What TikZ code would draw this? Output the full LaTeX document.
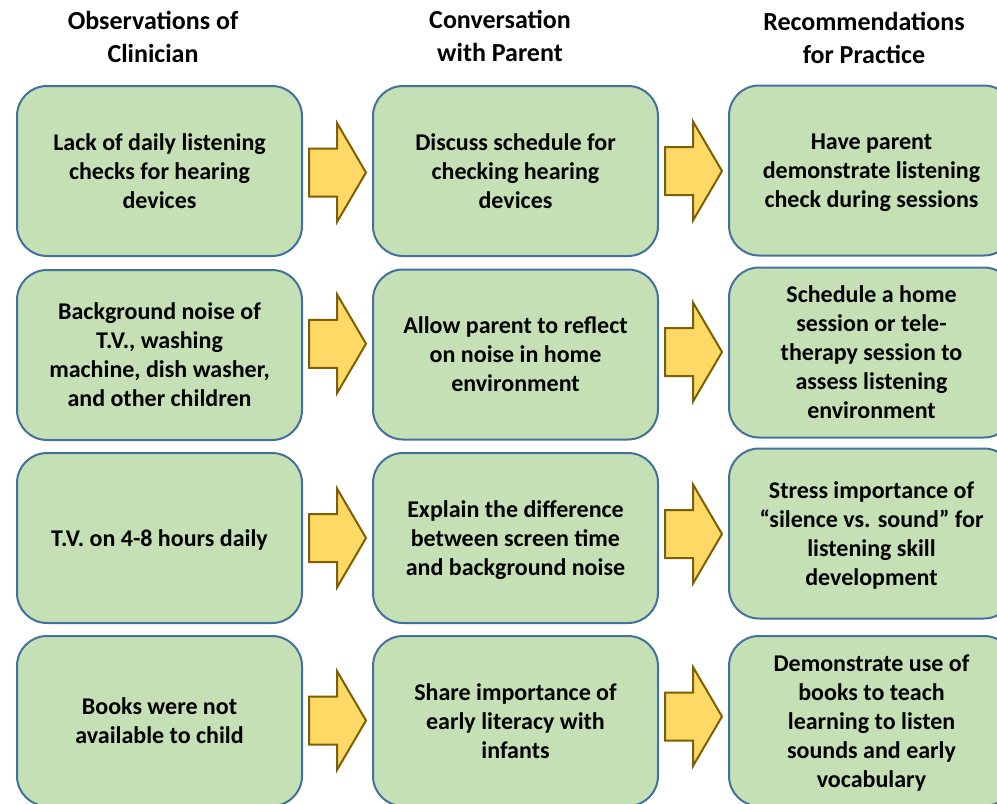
\documentclass[tikz,border=0pt]{standalone}
\usepackage{fontspec}
\setmainfont{Carlito}
\usetikzlibrary{calc}
\definecolor{boxgreen}{HTML}{C5E0B4}
\definecolor{boxblue}{HTML}{41719C}
\definecolor{arrowgold}{HTML}{FFD966}
\definecolor{arrowedge}{HTML}{7F6000}
\tikzset{
	headtext/.style={font=\fontsize{26}{33}\selectfont\bfseries, align=center},
	stepcard/.style={draw=boxblue, fill=boxgreen, line width=2pt, rounded corners=30pt, minimum width=285pt, minimum height=170pt, inner sep=0pt, text depth=0pt, align=center, font=\fontsize{24}{29}\selectfont\bfseries},
	fatarrow/.style={draw=arrowedge, fill=arrowgold, line width=2pt, line join=miter}
}
\def\blockarrow(#1)(#2)[#3]{\begin{scope}[shift={($(#1.east)!0.5!(#2.west)+(0,#3)$)}]
	\draw[fatarrow] (-28.5,-24) -- (-0.5,-24) -- (-0.5,-49.5) -- (28.5,0) -- (-0.5,49.5) -- (-0.5,24) -- (-28.5,24) -- cycle;
\end{scope}}

\begin{document}
\begin{tikzpicture}[x=1pt, y=-1pt]
			%%%%% START %%%%%
			
			\clip (0, 0) rectangle (997, 804);
			
			\node[headtext] (hobs) at (153, 36.5) {Observations of\\Clinician};
			\node[headtext] (hconv) at (500, 36) {Conversation\\with Parent};
			\node[headtext] (hrec) at (864, 38) {Recommendations\\for Practice};
			
			\node[stepcard] (o1) at (159.5, 171) {Lack of daily listening\\checks for hearing\\devices};
			\node[stepcard] (o2) at (159.5, 355) {Background noise of\\T.V., washing\\machine, dish washer,\\and other children};
			\node[stepcard] (o3) at (159.5, 538) {T.V. on 4-8 hours daily};
			\node[stepcard] (o4) at (159.5, 721) {Books were not\\available to child};
			
			\node[stepcard] (c1) at (515.5, 171) {Discuss schedule for\\checking hearing\\devices};
			\node[stepcard] (c2) at (515.5, 354.5) {Allow parent to reflect\\on noise in home\\environment};
			\node[stepcard] (c3) at (515.5, 538) {Explain the difference\\between screen time\\and background noise};
			\node[stepcard] (c4) at (515.5, 721) {Share importance of\\early literacy with\\infants};
			
			\node[stepcard] (r1) at (871.5, 170.5) {Have parent\\demonstrate listening\\check during sessions};
			\node[stepcard] (r2) at (871.5, 352.5) {Schedule a home\\session or tele-\\therapy session to\\assess listening\\environment};
			\node[stepcard] (r3) at (871.5, 533.5) {Stress importance of\\“silence vs. sound” for\\listening skill\\development};
			\node[stepcard] (r4) at (871.5, 721) {Demonstrate use of\\books to teach\\learning to listen\\sounds and early\\vocabulary};
			
			\blockarrow(o1)(c1)[1.5];
			\blockarrow(o2)(c2)[-11];
			\blockarrow(o3)(c3)[0];
			\blockarrow(o4)(c4)[-0.5];
			
			\blockarrow(c1)(r1)[0.25];
			\blockarrow(c2)(r2)[-1.5];
			\blockarrow(c3)(r3)[-1.75];
			\blockarrow(c4)(r4)[-4.5];
			
			%%%%% END %%%%%
\end{tikzpicture}
\end{document}
